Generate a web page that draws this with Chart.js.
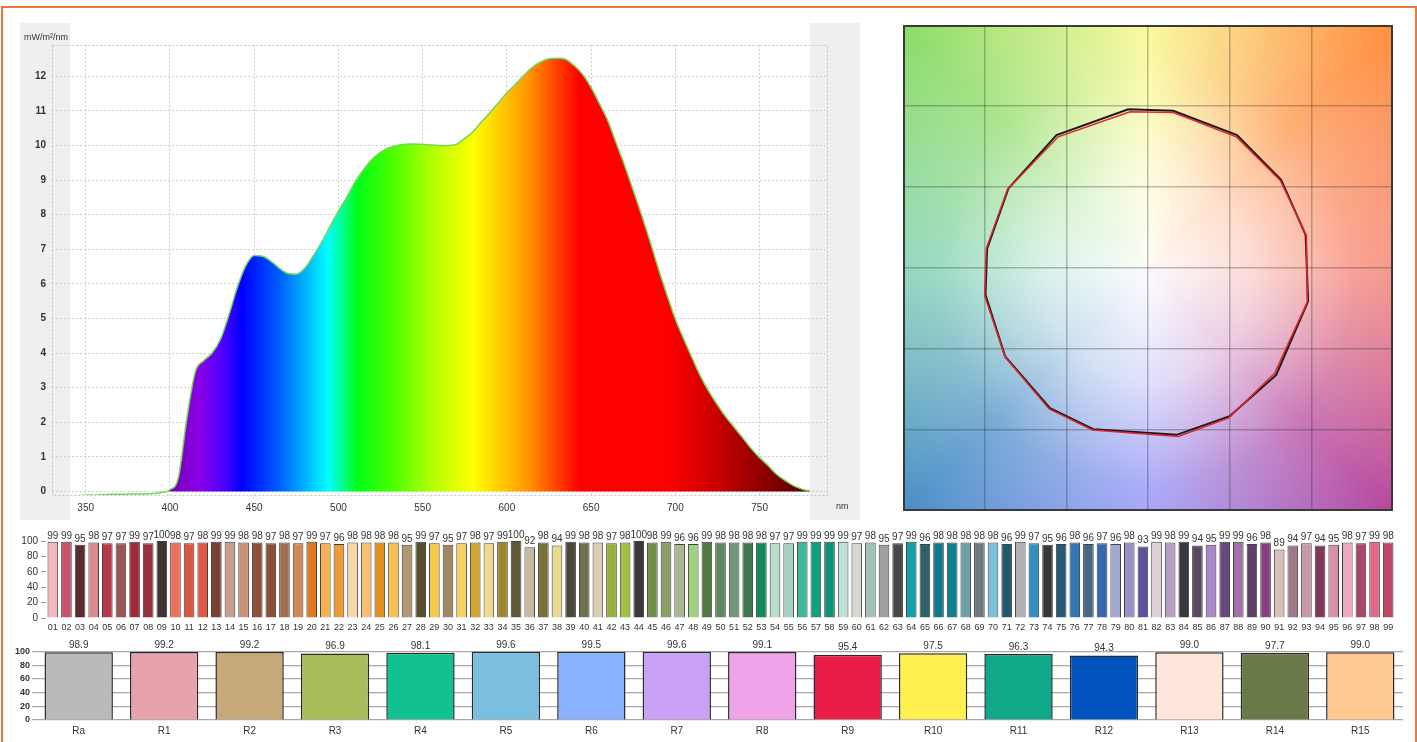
<!DOCTYPE html>
<html lang="en">
<head>
<meta charset="UTF-8">
<title>Spectrum and colour rendering report</title>
<script src="https://cdn.jsdelivr.net/npm/chart.js"></script>
<style>
  body { margin: 0; width: 1417px; height: 742px; position: relative; overflow: hidden; background: #fff; }
  .frame { position: absolute; left: 1px; top: 6px; width: 1416px; height: 800px; border: 2px solid #e8793a; box-sizing: border-box; }
  canvas { position: absolute; }
  #spec { left: 20px; top: 23px; }
  #cie { left: 903px; top: 25px; }
  #tm { left: 10px; top: 528px; }
  #cri { left: 0px; top: 640px; }
</style>
</head>
<body>
<div class="frame"></div>
<canvas id="spec" width="840" height="497"></canvas>
<canvas id="cie" width="490" height="486"></canvas>
<canvas id="tm" width="1400" height="110"></canvas>
<canvas id="cri" width="1417" height="102"></canvas>

<script>
// ---- spectrum (nm, mW/m2/nm) ----
const wavelengths = [340,345,350,355,360,365,370,375,380,385,390,395,400,405,410,415,420,425,430,435,
  440,445,450,455,460,465,470,475,480,485,490,495,500,505,510,515,520,525,530,535,540,545,550,555,560,
  565,570,575,580,585,590,595,600,605,610,615,620,625,630,635,640,645,650,655,660,665,670,675,680,685,
  690,695,700,705,710,715,720,725,730,735,740,745,750,755,760,765,770,775,780];
const irradiance = [-0.13,-0.12,-0.11,-0.11,-0.09,-0.08,-0.08,-0.07,-0.07,-0.07,-0.06,-0.03,0.05,0.4,2.1,3.45,3.78,4.0,4.4,5.1,
  5.9,6.52,6.82,6.8,6.65,6.45,6.3,6.28,6.45,6.8,7.2,7.65,8.1,8.5,8.95,9.3,9.6,9.8,9.93,10.0,10.03,10.04,10.03,10.01,10.0,
  10.0,10.03,10.2,10.4,10.68,10.95,11.23,11.52,11.76,12.02,12.25,12.41,12.5,12.52,12.48,12.3,12.05,11.67,11.2,10.7,10.05,9.4,8.7,7.98,7.22,
  6.42,5.68,4.98,4.4,3.85,3.32,2.88,2.5,2.15,1.85,1.55,1.24,0.98,0.75,0.5,0.32,0.17,0.07,0.01];
const specXTicks = [350,400,450,500,550,600,650,700,750];
const specYTicks = [0,1,2,3,4,5,6,7,8,9,10,11,12];

// ---- colour vector graphic: reference and test gamut ----
const refX  = [-0.24,0.31,1.09,1.63,1.93,1.96,1.57,1.00,0.35,-0.67,-1.20,-1.75,-1.99,-1.97,-1.71,-1.12];
const refY  = [1.96,1.94,1.64,1.09,0.41,-0.41,-1.32,-1.83,-2.06,-1.99,-1.73,-1.09,-0.33,0.24,0.98,1.64];
const testX = [-0.22,0.31,1.08,1.62,1.94,1.95,1.55,0.99,0.37,-0.68,-1.21,-1.75,-2.00,-1.98,-1.72,-1.10];
const testY = [1.93,1.92,1.62,1.08,0.40,-0.42,-1.30,-1.85,-2.08,-2.00,-1.74,-1.10,-0.34,0.24,0.97,1.62];

// ---- 99 colour samples ----
const sampleLabels = ['01','02','03','04','05','06','07','08','09','10','11','12','13','14','15','16','17','18','19','20',
  '21','22','23','24','25','26','27','28','29','30','31','32','33','34','35','36','37','38','39','40',
  '41','42','43','44','45','46','47','48','49','50','51','52','53','54','55','56','57','58','59','60',
  '61','62','63','64','65','66','67','68','69','70','71','72','73','74','75','76','77','78','79','80',
  '81','82','83','84','85','86','87','88','89','90','91','92','93','94','95','96','97','98','99'];
const sampleScores = [99,99,95,98,97,97,99,97,100,98,97,98,99,99,98,98,97,98,97,99,
  97,96,98,98,98,98,95,99,97,95,97,98,97,99,100,92,98,94,99,98,
  98,97,98,100,98,99,96,96,99,98,98,98,98,97,97,99,99,99,99,97,
  98,95,97,99,96,98,98,98,98,98,96,99,97,95,96,98,96,97,96,98,
  93,99,98,99,94,95,99,99,96,98,89,94,97,94,95,98,97,99,98];
const sampleColors = ['#f4b8bc','#c8506a','#5a2a2e','#d88a90','#b83a4a','#9a5656','#a02a38','#983040','#3e3430','#f0705a',
  '#d85840','#e05848','#7a4030','#c8a090','#c89078','#905038','#8a5038','#a07050','#d08858','#e07a20',
  '#f8b050','#f09a38','#f8d8a8','#f8c070','#e09020','#f8c050','#b09870','#585030','#f8c848','#a08860',
  '#f8d060','#d0a830','#f0d890','#a08828','#605838','#c8b8a0','#787038','#e8d890','#484838','#707050',
  '#d8d0b0','#98b038','#a0c040','#383838','#709048','#88a068','#a8b890','#a0d080','#507840','#608860',
  '#709878','#407850','#108858','#b8e0c8','#a8d0c0','#40b898','#10a080','#109078','#c0e0d8','#d8d8d0',
  '#a0c0b8','#a0a0a0','#484848','#10a0a8','#306068','#107888','#108090','#70a0a8','#707880','#78c0d8',
  '#205870','#b0b0b0','#3090c0','#383838','#285878','#3078b8','#486888','#3868b0','#a0a8d0','#9890c8',
  '#6050a0','#e0d0d8','#b8a0c0','#383840','#584860','#a888c8','#684880','#a070a8','#604068','#884080',
  '#d8c0b8','#a07888','#c898a8','#803858','#d890a8','#f0a8c0','#a84868','#e06888','#c04868'];

// ---- CRI ----
const criLabels = ['Ra','R1','R2','R3','R4','R5','R6','R7','R8','R9','R10','R11','R12','R13','R14','R15'];
const criValues = [98.9,99.2,99.2,96.9,98.1,99.6,99.5,99.6,99.1,95.4,97.5,96.3,94.3,99.0,97.7,99.0];
const criColors = ['#bababa','#e8a2ae','#c8aa7a','#a8bd5a','#12c190','#7abfdf','#8ab2fe','#c9a2f6','#eea2e8','#e81e48',
  '#fff050','#10a888','#0052be','#ffe6da','#697a48','#ffc890'];
const barYTicks = [0,20,40,60,80,100];

const spectrumStops = [
  [330,'rgba(122,0,184,0)'],[399,'rgba(122,0,184,0)'],[400,'#7800b4'],[418,'#8a00e8'],[432,'#4a00ff'],
  [443,'#0000ff'],[466,'#0064ff'],[494,'#00ffff'],[511,'#00ff18'],[532,'#48ff00'],[556,'#b4ff00'],
  [580,'#ffff00'],[612,'#ff9800'],[643,'#ff0000'],[695,'#ff0000'],[725,'#c80000'],[780,'#500000'],[790,'#500000']];

Chart.defaults.font.family = "'Liberation Sans', Arial, sans-serif";
Chart.defaults.color = '#333';

const fixedTicks = list => scale => { scale.ticks = list.map(v => ({value: v})); };

function spectrumFill(chart) {
  const area = chart.chartArea;
  if (!area) return 'transparent';
  const x = chart.scales.x;
  const g = chart.ctx.createLinearGradient(x.getPixelForValue(330), 0, x.getPixelForValue(790), 0);
  spectrumStops.forEach(([nm, c]) => g.addColorStop((nm - 330) / 460, c));
  return g;
}

const specFrame = {
  id: 'specFrame',
  beforeDraw(chart) {
    const ctx = chart.ctx;
    ctx.save();
    ctx.fillStyle = '#efefef';
    ctx.fillRect(0, 0, chart.width, chart.height);
    ctx.fillStyle = '#ffffff';
    ctx.fillRect(50, 0, 740, chart.height);
    ctx.restore();
  },
  beforeDatasetsDraw(chart) {
    const {ctx, chartArea: a} = chart;
    ctx.save();
    ctx.strokeStyle = '#c4c4c4';
    ctx.setLineDash([2, 2]);
    ctx.lineWidth = 1;
    ctx.strokeRect(a.left + 0.5, a.top + 0.5, a.width, a.height);
    ctx.restore();
  },
  afterDraw(chart) {
    const ctx = chart.ctx;
    ctx.save();
    ctx.fillStyle = '#333';
    ctx.font = "9px 'Liberation Sans', Arial, sans-serif";
    ctx.textBaseline = 'middle';
    ctx.fillText('mW/m²/nm', 4, 15);
    ctx.fillText('nm', 816, 484);
    ctx.restore();
  }
};

new Chart(document.getElementById('spec'), {
  type: 'line',
  data: {
    datasets: [{
      data: wavelengths.map((w, i) => ({x: w, y: irradiance[i]})),
      borderColor: '#72d65a',
      borderWidth: 1.5,
      pointRadius: 0,
      cubicInterpolationMode: 'monotone',
      fill: {value: 0},
      backgroundColor: ctx => spectrumFill(ctx.chart)
    }]
  },
  options: {
    responsive: false,
    animation: false,
    layout: { padding: { top: 22, right: 33, left: 0, bottom: 0 } },
    plugins: { legend: { display: false }, tooltip: { enabled: false } },
    scales: {
      x: {
        type: 'linear', min: 330, max: 790,
        afterBuildTicks: fixedTicks(specXTicks),
        ticks: { maxRotation: 0, padding: 7, font: { size: 10 } },
        grid: { color: '#cfcfcf', drawTicks: false },
        border: { display: false, dash: [2, 2] },
        afterFit: s => { s.height = 25; }
      },
      y: {
        min: -0.1, max: 12.9,
        afterBuildTicks: fixedTicks(specYTicks),
        ticks: { padding: 6, font: { size: 10, weight: 'bold' } },
        grid: { color: '#cfcfcf', drawTicks: false },
        border: { display: false, dash: [2, 2] },
        afterFit: s => { s.width = 32; }
      }
    }
  },
  plugins: [specFrame]
});

// ---- colour vector graphic ----
const hueField = {
  id: 'hueField',
  beforeDraw(chart) {
    const {ctx, chartArea: a} = chart;
    const cx = (a.left + a.right) / 2, cy = (a.top + a.bottom) / 2;
    ctx.save();
    ctx.beginPath();
    ctx.rect(a.left, a.top, a.width, a.height);
    ctx.clip();
    const cg = ctx.createConicGradient(0, cx, cy);
    cg.addColorStop(0, '#f6806e');
    cg.addColorStop(0.125, '#b4449c');
    cg.addColorStop(0.25, '#8e8ef8');
    cg.addColorStop(0.375, '#468cc6');
    cg.addColorStop(0.5, '#7acfae');
    cg.addColorStop(0.625, '#8edc68');
    cg.addColorStop(0.75, '#f8f888');
    cg.addColorStop(0.875, '#ff9040');
    cg.addColorStop(1, '#f6806e');
    ctx.fillStyle = cg;
    ctx.fillRect(a.left, a.top, a.width, a.height);
    const rg = ctx.createRadialGradient(cx, cy + 10, 0, cx, cy + 10, 345);
    rg.addColorStop(0, 'rgba(255,255,255,0.97)');
    rg.addColorStop(0.3, 'rgba(255,255,255,0.72)');
    rg.addColorStop(0.6, 'rgba(255,255,255,0.28)');
    rg.addColorStop(1, 'rgba(255,255,255,0)');
    ctx.fillStyle = rg;
    ctx.fillRect(a.left, a.top, a.width, a.height);
    ctx.restore();
  },
  afterDraw(chart) {
    const {ctx, chartArea: a} = chart;
    ctx.save();
    ctx.strokeStyle = '#3a3a3a';
    ctx.lineWidth = 2;
    ctx.strokeRect(a.left + 1, a.top + 1, a.width - 2, a.height - 2);
    ctx.restore();
  }
};

const closed = (xs, ys) => xs.map((x, i) => ({x, y: ys[i]})).concat([{x: xs[0], y: ys[0]}]);

new Chart(document.getElementById('cie'), {
  type: 'scatter',
  data: {
    datasets: [
      { data: closed(testX, testY), showLine: true, borderColor: '#e0262a', borderWidth: 1.5, pointRadius: 0, tension: 0 },
      { data: closed(refX, refY), showLine: true, borderColor: '#1a1a1a', borderWidth: 2, pointRadius: 0, tension: 0 }
    ]
  },
  options: {
    responsive: false,
    animation: false,
    layout: { padding: 0 },
    plugins: { legend: { display: false }, tooltip: { enabled: false } },
    scales: {
      x: {
        min: -3, max: 3, ticks: { display: false, stepSize: 1 },
        grid: { color: 'rgba(40,40,40,0.3)', lineWidth: 1.5, drawTicks: false },
        border: { display: false },
        afterFit: s => { s.height = 0; }
      },
      y: {
        min: -3, max: 3, ticks: { display: false, stepSize: 1 },
        grid: { color: 'rgba(40,40,40,0.3)', lineWidth: 1.5, drawTicks: false },
        border: { display: false },
        afterFit: s => { s.width = 0; }
      }
    }
  },
  plugins: [hueField]
});

// ---- bar value labels ----
const valueLabels = {
  id: 'valueLabels',
  afterDatasetsDraw(chart, args, opts) {
    const ctx = chart.ctx;
    const vals = chart.data.datasets[0].data;
    ctx.save();
    ctx.font = opts.size + "px 'Liberation Sans', Arial, sans-serif";
    ctx.fillStyle = '#333';
    ctx.textAlign = 'center';
    ctx.textBaseline = 'bottom';
    chart.getDatasetMeta(0).data.forEach((bar, i) => {
      ctx.fillText(vals[i].toFixed(opts.decimals), bar.x, bar.y - opts.gap);
    });
    ctx.restore();
  }
};

new Chart(document.getElementById('tm'), {
  type: 'bar',
  data: {
    labels: sampleLabels,
    datasets: [{
      data: sampleScores,
      backgroundColor: sampleColors,
      borderColor: 'rgba(30,30,30,0.85)',
      borderWidth: 1,
      categoryPercentage: 1,
      barPercentage: 0.78
    }]
  },
  options: {
    responsive: false,
    animation: false,
    layout: { padding: { top: 13, right: 15, left: 0, bottom: 0 } },
    plugins: { legend: { display: false }, tooltip: { enabled: false },
      valueLabels: { size: 10, decimals: 0, gap: 1 } },
    scales: {
      x: {
        ticks: { autoSkip: false, maxRotation: 0, padding: 4, font: { size: 9 } },
        grid: { display: false, drawTicks: false },
        border: { display: false },
        afterFit: s => { s.height = 20; }
      },
      y: {
        min: 0, max: 100,
        afterBuildTicks: fixedTicks(barYTicks),
        ticks: { autoSkip: false, padding: 3, font: { size: 10 } },
        grid: { drawOnChartArea: false, tickLength: 5, color: '#999' },
        border: { display: false },
        afterFit: s => { s.width = 36; }
      }
    }
  },
  plugins: [valueLabels]
});

new Chart(document.getElementById('cri'), {
  type: 'bar',
  data: {
    labels: criLabels,
    datasets: [{
      data: criValues,
      backgroundColor: criColors,
      borderColor: '#2a2a2a',
      borderWidth: 1.5,
      categoryPercentage: 1,
      barPercentage: 0.8
    }]
  },
  options: {
    responsive: false,
    animation: false,
    layout: { padding: { top: 11.5, right: 14, left: 0, bottom: 0 } },
    plugins: { legend: { display: false }, tooltip: { enabled: false },
      valueLabels: { size: 10, decimals: 1, gap: 2 } },
    scales: {
      x: {
        ticks: { maxRotation: 0, padding: 5, font: { size: 10 } },
        grid: { display: false, drawTicks: false },
        border: { display: false },
        afterFit: s => { s.height = 22; }
      },
      y: {
        min: 0, max: 100,
        afterBuildTicks: fixedTicks(barYTicks),
        ticks: { autoSkip: false, padding: 2, font: { size: 9, weight: 'bold' } },
        grid: { color: '#a8a8a8', lineWidth: 1.2, tickLength: 4 },
        border: { display: false },
        afterFit: s => { s.width = 36; }
      }
    }
  },
  plugins: [valueLabels]
});
</script>
</body>
</html>
